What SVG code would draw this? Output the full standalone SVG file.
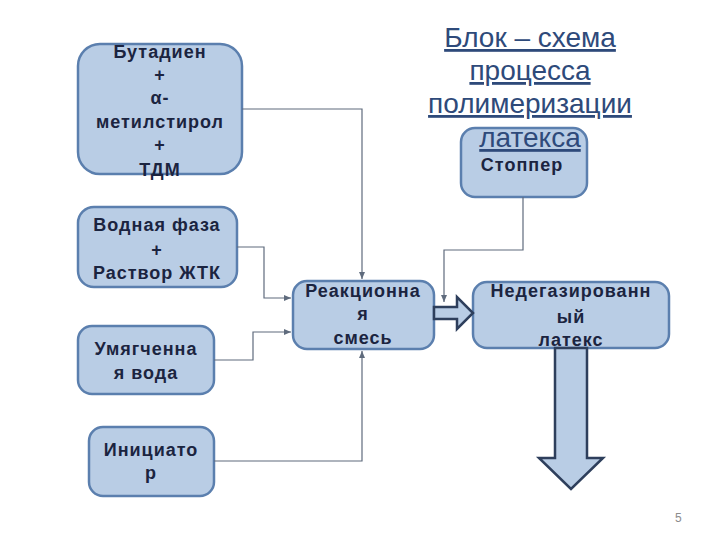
<svg xmlns="http://www.w3.org/2000/svg" width="720" height="540" viewBox="0 0 720 540">
<defs>
<marker id="ah" markerWidth="8" markerHeight="8" refX="7" refY="4" orient="auto" markerUnits="userSpaceOnUse">
<path d="M0,1 L7,4 L0,7 Z" fill="#5F6B7D"/>
</marker>
<style>
.box{fill:#B9CDE5;stroke:#5B7FAE;stroke-width:2.5}
.t{font-family:"Liberation Sans",Arial,sans-serif;font-weight:bold;font-size:18px;fill:#1B2440;text-anchor:middle;letter-spacing:1px}
.c{fill:none;stroke:#5F6B7D;stroke-width:1.2}
.big{fill:#B9CDE5;stroke:#2E3F5C;stroke-width:2.5;stroke-linejoin:miter}
.title{font-family:"Liberation Sans",Arial,sans-serif;font-size:28px;fill:#2E4A7A;text-anchor:middle;text-decoration:underline}
</style>
</defs>
<rect width="720" height="540" fill="#FFFFFF"/>

<g id="n-butadiene">
<rect class="box" x="78" y="44" width="164" height="130" rx="22"/>
<text class="t" x="160" y="58">Бутадиен</text>
<text class="t" x="160" y="81">+</text>
<text class="t" x="160" y="104">α-</text>
<text class="t" x="160" y="128">метилстирол</text>
<text class="t" x="160" y="151">+</text>
<text class="t" x="160" y="176">ТДМ</text>
</g>

<g id="n-water-phase">
<rect class="box" x="78" y="207" width="159" height="80" rx="16"/>
<text class="t" x="157" y="231">Водная фаза</text>
<text class="t" x="157" y="256">+</text>
<text class="t" x="157" y="279">Раствор ЖТК</text>
</g>

<g id="n-soft-water">
<rect class="box" x="78" y="326" width="136" height="68" rx="14"/>
<text class="t" x="146" y="355">Умягченна</text>
<text class="t" x="146" y="379">я вода</text>
</g>

<g id="n-initiator">
<rect class="box" x="89" y="427" width="125" height="69" rx="14"/>
<text class="t" x="151" y="456">Инициато</text>
<text class="t" x="151" y="479">р</text>
</g>

<g id="n-reaction">
<rect class="box" x="293" y="281" width="141" height="68" rx="14"/>
<text class="t" x="363" y="297">Реакционна</text>
<text class="t" x="363" y="320">я</text>
<text class="t" x="363" y="344">смесь</text>
</g>

<g id="n-stopper">
<rect class="box" x="461" y="128" width="126" height="69" rx="14"/>
<text class="t" x="522" y="171">Стоппер</text>
</g>

<g id="n-latex">
<rect class="box" x="473" y="282" width="196" height="66" rx="14"/>
<text class="t" x="571" y="297">Недегазированн</text>
<text class="t" x="571" y="323">ый</text>
<text class="t" x="571" y="346">латекс</text>
</g>

<g id="connectors">
<path class="c" d="M242,109 H362 V279" marker-end="url(#ah)"/>
<path class="c" d="M237,247 H264 V298 H291" marker-end="url(#ah)"/>
<path class="c" d="M214,360 H253 V332 H291" marker-end="url(#ah)"/>
<path class="c" d="M214,461 H362 V351" marker-end="url(#ah)"/>
<path class="c" d="M523,197 V250 H444 V302" marker-end="url(#ah)"/>
<path class="big" d="M434,307 H457 V297 L473,313 L457,329 V319 H434 Z"/>
<path class="big" d="M555,348 H587 V458 H603 L571,489 L539,458 H555 Z"/>
</g>

<g id="title">
<text class="title" x="530" y="47">Блок – схема</text>
<text class="title" x="530" y="80">процесса</text>
<text class="title" x="530" y="113">полимеризации</text>
<text class="title" x="530" y="147">латекса</text>
</g>

<text x="675" y="522" font-family="'Liberation Sans',Arial,sans-serif" font-size="12" fill="#8C8C8C">5</text>
</svg>
